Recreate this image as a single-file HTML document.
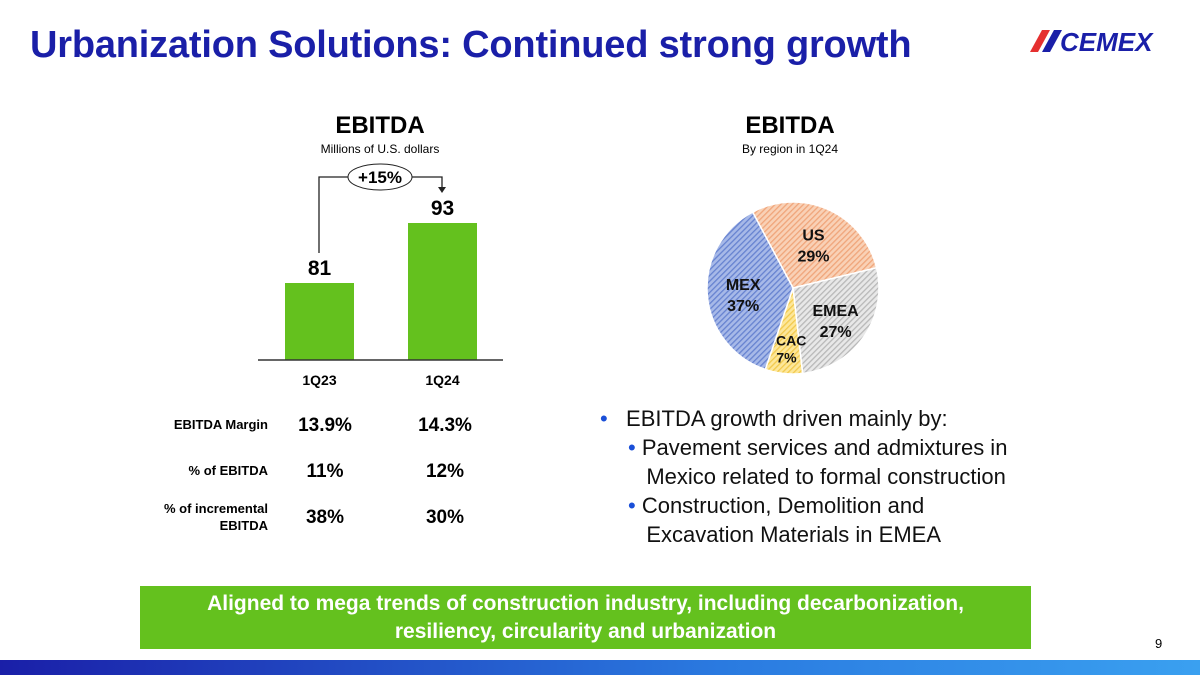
<!DOCTYPE html>
<html><head><meta charset="utf-8"><style>
body{margin:0;width:1200px;height:675px;overflow:hidden;background:#fff;font-family:"Liberation Sans",sans-serif;position:relative}
.a{position:absolute}
</style></head><body>
<div class="a" style="left:30px;top:24px;font-size:38px;font-weight:bold;color:#1a1fa8;letter-spacing:-0.2px">Urbanization Solutions: Continued strong growth</div>
<svg class="a" style="left:1030px;top:20px" width="160" height="40" viewBox="0 0 160 40">
<polygon points="12,10 20,10 8,32 0,32" fill="#e53030"/><polygon points="24,10 32,10 20,32 12,32" fill="#1a1fa8"/>
<text x="30" y="31" font-family="Liberation Sans" font-weight="bold" font-style="italic" font-size="26" fill="#1a1fa8">CEMEX</text></svg>
<div class="a" style="left:280px;top:112px;width:200px;text-align:center;font-size:24px;font-weight:bold">EBITDA</div>
<div class="a" style="left:280px;top:142px;width:200px;text-align:center;font-size:12px">Millions of U.S. dollars</div>
<div class="a" style="left:690px;top:112px;width:200px;text-align:center;font-size:24px;font-weight:bold">EBITDA</div>
<div class="a" style="left:690px;top:142px;width:200px;text-align:center;font-size:12px">By region in 1Q24</div>
<svg class="a" id="chart" style="left:0;top:0" width="1200" height="675">
<defs>
<pattern id="pb" width="4" height="4" patternUnits="userSpaceOnUse" patternTransform="rotate(45)"><rect width="4" height="4" fill="#a7b9e8"/><rect width="1.3" height="4" fill="#6682d0"/></pattern>
<pattern id="po" width="4" height="4" patternUnits="userSpaceOnUse" patternTransform="rotate(45)"><rect width="4" height="4" fill="#f9d1b6"/><rect width="1.3" height="4" fill="#f0a57a"/></pattern>
<pattern id="pg" width="4" height="4" patternUnits="userSpaceOnUse" patternTransform="rotate(45)"><rect width="4" height="4" fill="#e8e8e8"/><rect width="1.3" height="4" fill="#b8b8b8"/></pattern>
<pattern id="py" width="4" height="4" patternUnits="userSpaceOnUse" patternTransform="rotate(45)"><rect width="4" height="4" fill="#fde79a"/><rect width="1.3" height="4" fill="#f2c94c"/></pattern>
</defs>
</svg>
<div class="a" style="left:140px;top:417px;width:128px;text-align:right;font-size:13px;font-weight:bold">EBITDA Margin</div>
<div class="a" style="left:140px;top:463px;width:128px;text-align:right;font-size:13px;font-weight:bold">% of EBITDA</div>
<div class="a" style="left:140px;top:500px;width:128px;text-align:right;font-size:13px;font-weight:bold;line-height:17px">% of incremental<br>EBITDA</div>
<div class="a" style="left:270px;top:414px;width:110px;text-align:center;font-size:19px;font-weight:bold;line-height:24px">13.9%<div style="height:22px"></div>11%<div style="height:22px"></div>38%</div>
<div class="a" style="left:390px;top:414px;width:110px;text-align:center;font-size:19px;font-weight:bold;line-height:24px">14.3%<div style="height:22px"></div>12%<div style="height:22px"></div>30%</div>
<div class="a" style="left:600px;top:404px;font-size:22px;line-height:29px;color:#111">
<div><span style="color:#1a4fd8">•</span>&nbsp;&nbsp;&nbsp;EBITDA growth driven mainly by:</div>
<div style="padding-left:28px"><span style="color:#1a4fd8">•</span> Pavement services and admixtures in<br>&nbsp;&nbsp;&nbsp;Mexico related to formal construction</div>
<div style="padding-left:28px"><span style="color:#1a4fd8">•</span> Construction, Demolition and<br>&nbsp;&nbsp;&nbsp;Excavation Materials in EMEA</div></div>
<div class="a" style="left:140px;top:586px;width:891px;height:63px;background:#64c11e;color:#fff;font-size:21px;font-weight:bold;text-align:center;line-height:28px;padding-top:4px;box-sizing:border-box">Aligned to mega trends of construction industry, including decarbonization,<br>resiliency, circularity and urbanization</div>
<div class="a" style="left:1155px;top:636px;font-size:13px">9</div>
<div class="a" style="left:0;top:660px;width:1200px;height:15px;background:linear-gradient(90deg,#1a1fa8,#2a7ae0 60%,#3aa0f0)"></div>
<script>
const categories=["1Q23","1Q24"];
const values=[81,93];
const growthLabel="+15%";
const regions=["US","EMEA","SCAC","MEX"];
const shares=[29,27,7,37];
const svg=document.getElementById('chart');
const NS="http://www.w3.org/2000/svg";
function mk(t,a,p){const e=document.createElementNS(NS,t);for(const k in a)e.setAttribute(k,a[k]);(p||svg).appendChild(e);return e;}
const base=360,vmin=65.6,scale=5;
const y=v=>base-(v-vmin)*scale;
const x=i=>285+i*123;
const bw=69;
values.forEach((v,i)=>{
 const r=mk('rect',{x:x(i),y:y(v),width:bw,height:base-y(v),fill:'#64c11e'});
 
 
 const t=mk('text',{x:x(i)+bw/2,y:y(v)-8,'text-anchor':'middle','font-size':21,'font-weight':'bold'});t.textContent=v;
 
 
 const c=mk('text',{x:x(i)+bw/2,y:base+25,'text-anchor':'middle','font-size':14,'font-weight':'bold'});c.textContent=categories[i];
 
 
});
const ax=mk('line',{x1:258,x2:503,y1:base,y2:base,stroke:'#333','stroke-width':1.5});


const bx1=x(0)+34,bx2=x(1)+34,by=177;
const br=mk('path',{d:`M${bx1} ${y(values[0])-30} V${by} H${bx2} V${y(values[1])-34}`,fill:'none',stroke:'#222','stroke-width':1.3});


mk('polygon',{points:`${bx2-4},${y(values[1])-36} ${bx2+4},${y(values[1])-36} ${bx2},${y(values[1])-30}`,fill:'#222'});
const el=mk('ellipse',{cx:380,cy:by,rx:32,ry:13,fill:'#fff',stroke:'#222','stroke-width':1});


const gt=mk('text',{x:380,y:by+6,'text-anchor':'middle','font-size':17,'font-weight':'bold'});gt.textContent=growthLabel;
const cx=793,cy=288,R=86;const fills=['url(#po)','url(#pg)','url(#py)','url(#pb)'];
const tot=shares.reduce((a,b)=>a+b,0);let ang=-28;
const pt=(a,r)=>[cx+r*Math.sin(a*Math.PI/180),cy-r*Math.cos(a*Math.PI/180)];
const lr=[50,52,60,50];
shares.forEach((s,i)=>{
 const sw=s/tot*360,a2=ang+sw;const p1=pt(ang,R),p2=pt(a2,R);
 const p=mk('path',{d:`M${cx} ${cy} L${p1[0]} ${p1[1]} A${R} ${R} 0 ${sw>180?1:0} 1 ${p2[0]} ${p2[1]}Z`,fill:fills[i],stroke:'#fff','stroke-width':1.5});
 
 
 const m=pt(ang+sw/2,lr[i]);
 const t=mk('text',{x:m[0],y:m[1]-2,'text-anchor':'middle','font-size':i==2?14:16,'font-weight':'bold',fill:'#111'});
 
 
 mk('tspan',{x:m[0],dy:0},t).textContent=regions[i];
 mk('tspan',{x:m[0],dy:i==2?17:21},t).textContent=s+'%';
 ang=a2;
});
</script>
</body></html>
